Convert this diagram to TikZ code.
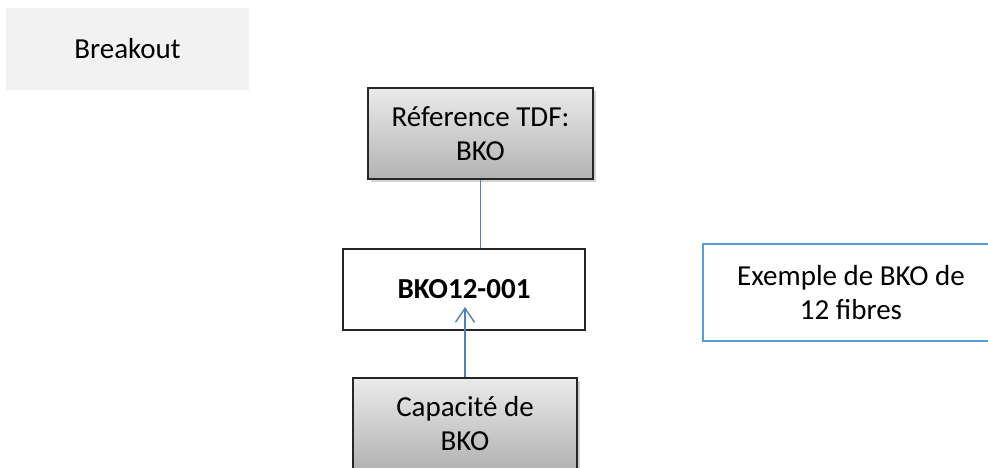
\documentclass[tikz,border=0pt]{standalone}
\usepackage{fontspec}
\setmainfont{Carlito}
\usepackage{xcolor,tikz}
\usetikzlibrary{arrows.meta,positioning,shadows}
\definecolor{linkblue}{HTML}{4F81BD}
\definecolor{boxblue}{HTML}{5B9BD5}
\definecolor{pale}{HTML}{F2F2F2}
\tikzset{grey box/.style={draw=black!85,line width=1.8pt,top color=black!8,bottom color=black!30,
    drop shadow={opacity=.35,shadow xshift=3pt,shadow yshift=-3pt},align=center,inner sep=0pt},
  plain box/.style={draw=black!85,line width=1.8pt,fill=white,align=center,inner sep=0pt},
  link/.style={linkblue,line width=1.3pt},
  up/.style={-{Straight Barb[length=14pt,width=19pt]},linkblue,line width=1.4pt}}
\begin{document}
\begin{tikzpicture}[x=1pt,y=-1pt,font=\fontsize{29}{34}\selectfont]
\useasboundingbox (0,0) rectangle (988,468);
\node[fill=pale,minimum width=243pt,minimum height=82pt,inner sep=0pt] (brk) at (127.5,49) {Breakout};
\node[grey box,minimum width=225pt,minimum height=91pt] (ref) at (480.5,133.5) {Réference TDF:\\BKO};
\node[plain box,minimum width=242pt,minimum height=81pt] (bko) at (464,289.5) {\bfseries BKO12-001};
\node[grey box,minimum width=224pt,minimum height=91pt] (cap) at (465,423.5) {Capacité de\\BKO};
\node[draw=boxblue,line width=2pt,fill=white,minimum width=296pt,minimum height=97pt,align=center,inner sep=0pt] (ex) at (851,292.5) {Exemple de BKO de\\12 fibres};
\coordinate (tip) at (465,307);
\draw[link] (ref.south) -- (ref.south |- bko.north);
\draw[up] (cap.north) -- (tip);
\end{tikzpicture}
\end{document}
